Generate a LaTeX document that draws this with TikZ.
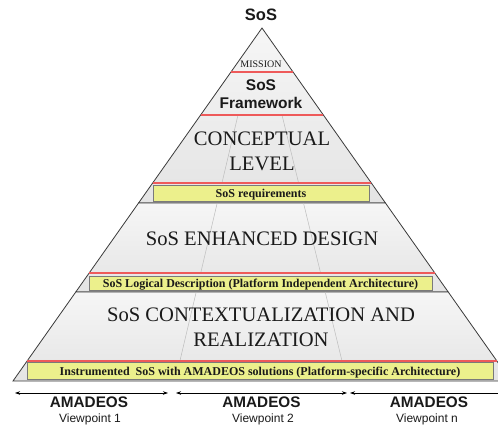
\documentclass[tikz,border=0pt]{standalone}
\usepackage{fontspec}
\setmainfont{Liberation Serif}
\setsansfont{Liberation Sans}
\usetikzlibrary{arrows.meta}
\definecolor{pyrtop}{HTML}{F6F6F6}
\definecolor{pyrbot}{HTML}{E4E4E4}
\definecolor{redline}{HTML}{EE5A5A}
\definecolor{yellowbox}{HTML}{ECF08C}
\definecolor{boxedge}{HTML}{7A7A7A}
\definecolor{divline}{HTML}{BDBDBD}
\definecolor{edgecol}{HTML}{3A3A3A}
\definecolor{txtcol}{HTML}{1A1A1A}
\tikzset{
  lbl/.style={inner sep=0pt, anchor=base, text=txtcol},
  bigserif/.style={lbl, font=\rmfamily\fontsize{20.6}{24}\selectfont},
  ybox/.style={draw=boxedge, fill=yellowbox, line width=0.8pt, inner sep=0pt,
    text height=9pt, text depth=0pt, text=txtcol,
    font=\rmfamily\fontsize{12}{14}\selectfont\bfseries},
  layer/.style={draw=edgecol, line width=0.8pt, top color=pyrtop, bottom color=pyrbot},
  redsep/.style={draw=redline, line width=1.2pt},
  divider/.style={draw=divline, line width=0.5pt},
  vparrow/.style={draw=black, line width=0.7pt, {Stealth[length=5pt,width=3.5pt]}-{Stealth[length=5pt,width=3.5pt]}}
}
\begin{document}
\begin{tikzpicture}[x=1pt,y=-1pt]
\useasboundingbox (0,0) rectangle (498,428);
\clip (0,0) rectangle (498,428);
% pyramid coordinates
\coordinate (apex) at (262,28);
\coordinate (l72) at (230.96,72);   \coordinate (r72) at (293.04,72);
\coordinate (l115) at (200.63,115); \coordinate (r115) at (323.37,115);
\coordinate (l183) at (152.66,183); \coordinate (r183) at (371.34,183);
\coordinate (l203) at (138.55,203); \coordinate (r203) at (385.45,203);
\coordinate (l273) at (89.18,273);  \coordinate (r273) at (434.82,273);
\coordinate (l292) at (75.77,292);  \coordinate (r292) at (448.23,292);
\coordinate (l361) at (27.1,361);   \coordinate (r361) at (496.9,361);
\coordinate (l381) at (13,381);     \coordinate (r381) at (511,381);
% layers
\path[layer] (apex) -- (l203) -- (r203) -- cycle;
\path[layer] (l203) -- (r203) -- (r292) -- (l292) -- cycle;
\path[layer] (l292) -- (r292) -- (r381) -- (l381) -- cycle;
% viewpoint dividers
\coordinate (dl1a) at (238,115);    \coordinate (dl1b) at (221.95,183);
\coordinate (dr1a) at (282,115);    \coordinate (dr1b) at (298.6,183);
\coordinate (dl2a) at (217.2,203);  \coordinate (dl2b) at (200.7,273);
\coordinate (dr2a) at (303.5,203);  \coordinate (dr2b) at (320.6,273);
\coordinate (dl3a) at (196.2,292);  \coordinate (dl3b) at (179.9,361);
\coordinate (dr3a) at (325.2,292);  \coordinate (dr3b) at (342.0,361);
\draw[divider] (dl1a) -- (dl1b);
\draw[divider] (dr1a) -- (dr1b);
\draw[divider] (dl2a) -- (dl2b);
\draw[divider] (dr2a) -- (dr2b);
\draw[divider] (dl3a) -- (dl3b);
\draw[divider] (dr3a) -- (dr3b);
% red separators
\draw[redsep] (l72) -- (r72);
\draw[redsep] (l115) -- (r115);
\draw[redsep] (l183) -- (r183);
\draw[redsep] (l273) -- (r273);
\draw[redsep] (l361) -- (r361);
% yellow boxes
\node[ybox, minimum width=216pt, minimum height=16.7pt] (req) at (261,193.35) {SoS requirements};
\node[ybox, minimum width=343pt, minimum height=14.7pt] (logi) at (260.5,283.35) {SoS Logical Description (Platform Independent Architecture)};
\node[ybox, minimum width=466pt, minimum height=17pt] (instr) at (260,370.5) {Instrumented\ \ SoS with AMADEOS solutions (Platform-specific Architecture)};
% texts
\node[lbl, font=\fontsize{16.5}{18}\selectfont\sffamily\bfseries] (title) at (261,21) {SoS};
\node[lbl, font=\rmfamily\fontsize{10}{12}\selectfont] (mission) at (261,67.7) {MISSION};
\node[lbl, font=\fontsize{15.5}{18}\selectfont\sffamily\bfseries] (fw1) at (261,90) {SoS};
\node[lbl, font=\fontsize{15.5}{18}\selectfont\sffamily\bfseries] (fw2) at (261,108.3) {Framework};
\node[bigserif] (conc1) at (262,145.7) {CONCEPTUAL};
\node[bigserif] (conc2) at (262,170.7) {LEVEL};
\node[bigserif] (enh) at (262,245) {SoS ENHANCED DESIGN};
\node[bigserif] (ctx1) at (261,321.7) {SoS CONTEXTUALIZATION AND};
\node[bigserif] (ctx2) at (261,346.7) {REALIZATION};
% viewpoint arrows
\coordinate (a1s) at (15,393);  \coordinate (a1e) at (168,393);
\coordinate (a2s) at (176,393); \coordinate (a2e) at (347,393);
\coordinate (a3s) at (350,393); \coordinate (a3e) at (515,393);
\draw[vparrow] (a1s) -- (a1e);
\draw[vparrow] (a2s) -- (a2e);
\draw[vparrow] (a3s) -- (a3e);
\node[lbl, font=\fontsize{15.3}{18}\selectfont\sffamily\bfseries] (am1) at (89,407.3) {AMADEOS};
\node[lbl, font=\fontsize{15.3}{18}\selectfont\sffamily\bfseries] (am2) at (261.5,407.3) {AMADEOS};
\node[lbl, font=\fontsize{15.3}{18}\selectfont\sffamily\bfseries] (am3) at (429,407.3) {AMADEOS};
\node[lbl, font=\fontsize{12}{14}\selectfont\sffamily] (vp1) at (90,422.3) {Viewpoint 1};
\node[lbl, font=\fontsize{12}{14}\selectfont\sffamily] (vp2) at (263,422.3) {Viewpoint 2};
\node[lbl, font=\fontsize{12}{14}\selectfont\sffamily] (vp3) at (427,422.3) {Viewpoint n};
\end{tikzpicture}
\end{document}
